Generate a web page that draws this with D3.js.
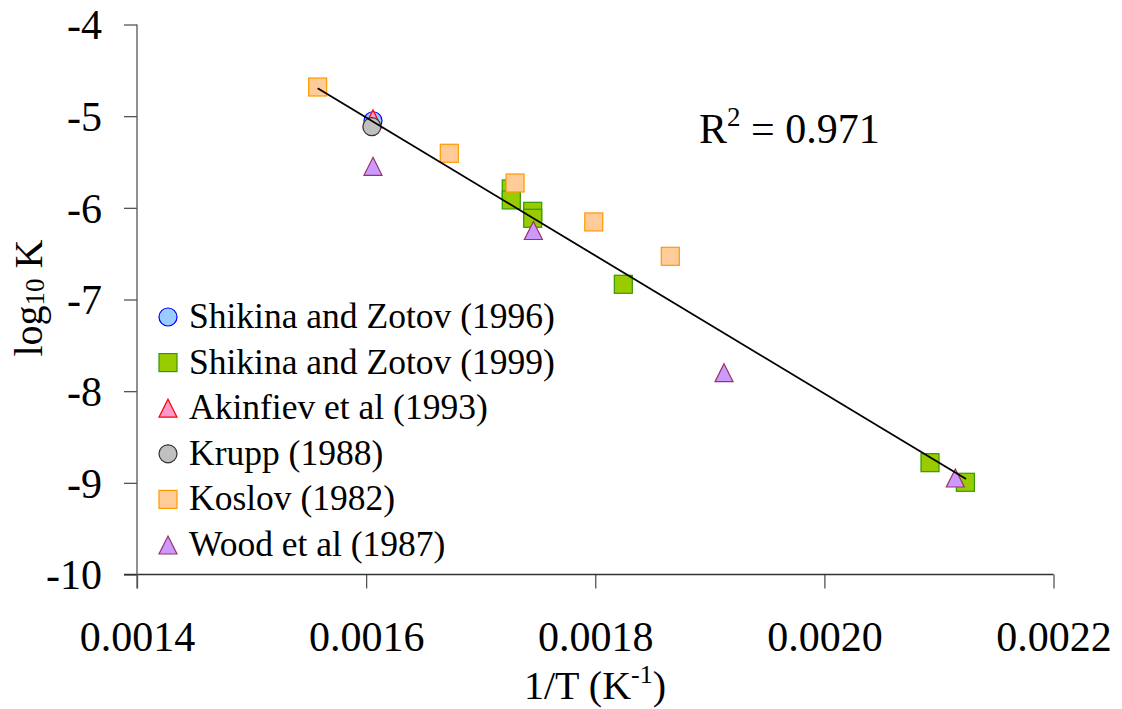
<!DOCTYPE html>
<html>
<head>
<meta charset="utf-8">
<script src="https://cdn.jsdelivr.net/npm/d3@7"></script>
<style>
  body { margin: 0; background: #fff; }
  text { font-family: "Liberation Serif", "DejaVu Serif", serif; fill: #000; }
</style>
</head>
<body>
<svg id="chart"></svg>
<script>
const width = 1122;
const height = 709;

// data
const shikina96X = [0.001606];
const shikina96Y = [-5.05];

const shikina99X = [0.0017267, 0.0017267, 0.0017454, 0.0017454, 0.0018245, 0.0020922, 0.0021231];
const shikina99Y = [-5.794, -5.914, -6.038, -6.114, -6.834, -8.780, -8.994];

const akinfievX = [0.001606];
const akinfievY = [-5.03];

const kruppX = [0.001605];
const kruppY = [-5.115];

const koslovX = [0.0015577, 0.0016726, 0.0017300, 0.0017987, 0.0018655];
const koslovY = [-4.682, -5.405, -5.729, -6.154, -6.529];

const woodX = [0.0016060, 0.0017460, 0.0019124, 0.0021143];
const woodY = [-5.547, -6.247, -7.798, -8.947];

// trend line end points
const fitX = [0.0015577, 0.0021237];
const fitY = [-4.696, -8.958];

const xTicks = [0.0014, 0.0016, 0.0018, 0.0020, 0.0022];
const yTicks = [-4, -5, -6, -7, -8, -9, -10];

const series = [
    { name: "Shikina and Zotov (1996)", x: shikina96X, y: shikina96Y, shape: "circle", fill: "#99ccff", stroke: "#0000ff" },
    { name: "Shikina and Zotov (1999)", x: shikina99X, y: shikina99Y, shape: "square", fill: "#99cc00", stroke: "#339900" },
    { name: "Akinfiev et al (1993)", x: akinfievX, y: akinfievY, shape: "triangle", fill: "#ff99cc", stroke: "#ff0000" },
    { name: "Krupp (1988)", x: kruppX, y: kruppY, shape: "circle", fill: "#c0c0c0", stroke: "#333333" },
    { name: "Koslov (1982)", x: koslovX, y: koslovY, shape: "square", fill: "#ffcc99", stroke: "#ff9900" },
    { name: "Wood et al (1987)", x: woodX, y: woodY, shape: "triangle", fill: "#cc99ff", stroke: "#993366" }
];

const margin = { left: 137, top: 24.5, right: 68.5, bottom: 134.5 };
const innerW = width - margin.left - margin.right;
const innerH = height - margin.top - margin.bottom;

const svg = d3.select("#chart")
    .attr("width", width)
    .attr("height", height);

const g = svg.append("g")
    .attr("transform", `translate(${margin.left},${margin.top})`);

const x = d3.scaleLinear().domain([0.0014, 0.0022]).range([0, innerW]);
const y = d3.scaleLinear().domain([-10, -4]).range([innerH, 0]);

// axes
const xAxis = g.append("g")
    .attr("transform", `translate(0,${innerH})`)
    .call(d3.axisBottom(x).tickValues(xTicks).tickSize(14).tickPadding(33).tickFormat(d3.format(".4f")));

const yAxis = g.append("g")
    .call(d3.axisLeft(y).tickValues(yTicks).tickSize(13).tickPadding(22).tickFormat(d => d3.format("d")(d).replace("−", "-")));

[xAxis, yAxis].forEach(a => {
    a.select(".domain").remove();
    a.selectAll("line").attr("stroke", "#555").attr("stroke-width", 1.3);
    a.selectAll("text").style("font-size", "42px").style("font-family", "Liberation Serif, serif");
});
xAxis.selectAll("text").attr("dy", "0.71em");
yAxis.selectAll("text").attr("dy", "0.34em");

// axis lines
g.append("line")
    .attr("x1", -13).attr("x2", innerW)
    .attr("y1", innerH).attr("y2", innerH)
    .attr("stroke", "#333").attr("stroke-width", 1.3);
g.append("line")
    .attr("x1", 0).attr("x2", 0)
    .attr("y1", 0).attr("y2", innerH + 14)
    .attr("stroke", "#555").attr("stroke-width", 1.3);

function drawMarker(sel, shape, cx, cy, fill, stroke) {
    const s = 18;
    if (shape === "circle") {
        sel.append("circle").attr("cx", cx).attr("cy", cy).attr("r", s / 2)
            .attr("fill", fill).attr("stroke", stroke).attr("stroke-width", 1.2);
    } else if (shape === "square") {
        sel.append("rect").attr("x", cx - s / 2).attr("y", cy - s / 2).attr("width", s).attr("height", s)
            .attr("fill", fill).attr("stroke", stroke).attr("stroke-width", 1.2);
    } else {
        const h = s;
        sel.append("path")
            .attr("d", `M${cx},${cy - h / 2}L${cx + s / 2},${cy + h / 2}L${cx - s / 2},${cy + h / 2}Z`)
            .attr("fill", fill).attr("stroke", stroke).attr("stroke-width", 1.2);
    }
}

// points
series.forEach(s => {
    const grp = g.append("g");
    s.x.forEach((v, i) => drawMarker(grp, s.shape, x(v), y(s.y[i]), s.fill, s.stroke));
});

// trend line on top
const line = d3.line().x(d => x(d[0])).y(d => y(d[1]));
g.append("path")
    .datum(fitX.map((v, i) => [v, fitY[i]]))
    .attr("d", line)
    .attr("fill", "none")
    .attr("stroke", "#000")
    .attr("stroke-width", 1.8);

// R squared label
const r2 = svg.append("text")
    .attr("x", 699).attr("y", 143)
    .style("font-size", "42px");
r2.append("tspan").text("R");
r2.append("tspan").attr("dy", -17).style("font-size", "27px").text("2");
r2.append("tspan").attr("dy", 17).text(" = 0.971");

// legend
const legend = svg.append("g");
series.forEach((s, i) => {
    const cy = 317 + i * 45.6;
    drawMarker(legend, s.shape, 168, cy, s.fill, s.stroke);
    legend.append("text")
        .attr("x", 189).attr("y", cy + 11)
        .style("font-size", "35.5px")
        .text(s.name);
});

// axis titles
const xt = svg.append("text")
    .attr("x", 595).attr("y", 699)
    .attr("text-anchor", "middle")
    .style("font-size", "40px");
xt.append("tspan").text("1/T (K");
xt.append("tspan").attr("dy", -16).style("font-size", "26px").text("-1");
xt.append("tspan").attr("dy", 16).text(")");

const yt = svg.append("text")
    .attr("transform", "translate(42,298) rotate(-90)")
    .attr("text-anchor", "middle")
    .style("font-size", "40px");
yt.append("tspan").text("log");
yt.append("tspan").attr("dy", 2).style("font-size", "27px").text("10");
yt.append("tspan").attr("dy", -2).text(" K");
</script>
</body>
</html>
